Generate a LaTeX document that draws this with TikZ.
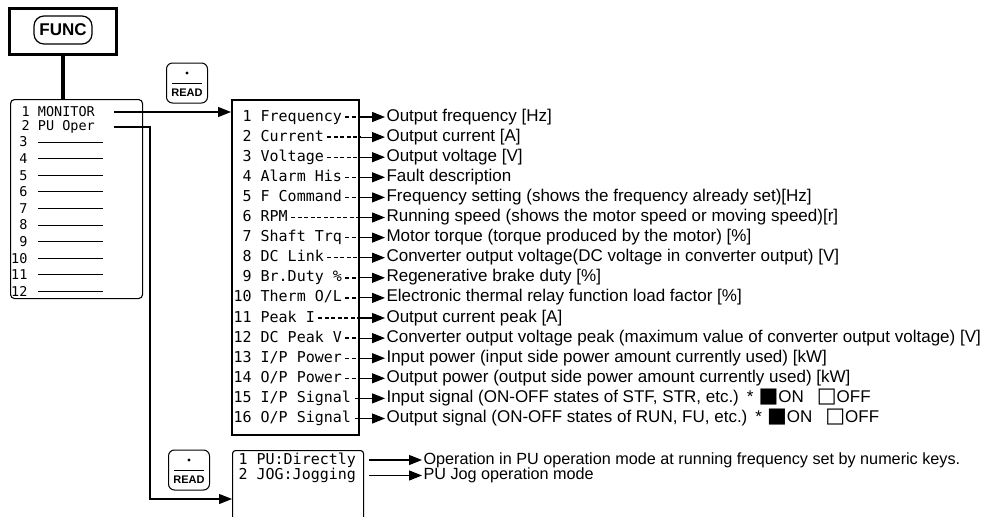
\documentclass[tikz,border=0pt]{standalone}
\usepackage{fontspec}
\setmainfont{Liberation Sans}
\newfontfamily\monofont{DejaVu Sans Mono}
\newfontfamily\symfont{DejaVu Sans}
\usetikzlibrary{arrows.meta,positioning,calc}

\begin{document}
\begin{tikzpicture}[x=1pt,y=-1pt,line width=1.1pt,
    arr/.style={-{Triangle[length=13pt,width=10pt]}},
    dots/.style={line width=1.4pt,dash pattern=on 4pt off 2.5pt,shorten <=2pt},
    keycap/.style={draw,rounded corners=6pt,line width=1pt,minimum width=41pt,minimum height=40pt},
    readtxt/.style={font=\bfseries\fontsize{11}{11}\selectfont,inner sep=0pt},
    menuitem/.style={inner sep=1pt,font=\monofont\fontsize{13.5}{13.5}\selectfont},
    mlabel/.style={anchor=west,inner sep=1pt,text height=11.5pt,text depth=3.5pt,font=\monofont\fontsize{15}{15}\selectfont},
    desc/.style={anchor=west,inner sep=1pt,text height=11.5pt,text depth=3.5pt,font=\fontsize{17}{18}\selectfont}]
  \useasboundingbox (0,0) rectangle (989,517);

  % FUNC key and function menu
  \node[draw,line width=3pt,minimum width=107pt,minimum height=46pt,anchor=north west] (funcbox) at (8,7) {};
  \node[draw,rounded corners=10pt,line width=1.2pt,minimum width=58pt,minimum height=28pt,font=\bfseries\fontsize{17}{17}\selectfont] (func) at ([yshift=1.5pt]funcbox.center) {FUNC};
  \node[draw,rounded corners=4pt,minimum width=132pt,minimum height=199pt,anchor=north west] (menu) at (10,99) {};
  \draw[line width=3.5pt] (funcbox.south) -- (funcbox.south |- menu.north);

  \node[menuitem,anchor=west] (m1) at (12,112) {\phantom{1}1 MONITOR};
  \node[menuitem,anchor=west] (m2) at (12,127) {\phantom{1}2 PU Oper};
  \foreach \i in {3,...,12}{
    \node[menuitem,anchor=east] (n\i) at (29,{142+(\i-3)*16.6}) {\i};
    \draw[line width=0.8pt] (n\i.east) ++(9,0) -- ++(65,0);
  }

  % READ keys
  \node[keycap] (read1) at (187,83) {};
  \fill ([yshift=10pt]read1.center) circle (1.6pt);
  \draw[line width=0.8pt] ([xshift=-15pt]read1.center) -- ([xshift=15pt]read1.center);
  \node[readtxt] (rd1) at ([yshift=-10pt]read1.center) {READ};

  \node[keycap] (read2) at (189,470) {};
  \fill ([yshift=10pt]read2.center) circle (1.6pt);
  \draw[line width=0.8pt] ([xshift=-15pt]read2.center) -- ([xshift=15pt]read2.center);
  \node[readtxt] (rd2) at ([yshift=-10pt]read2.center) {READ};

  % monitor screen
  \node[draw,line width=2pt,minimum width=127pt,minimum height=335pt,anchor=north west] (mon) at (231,99) {};
  \foreach \i/\lab/\txt in {
      1/{\phantom{1}1 Frequency}/{Output frequency [Hz]},
      2/{\phantom{1}2 Current}/{Output current [A]},
      3/{\phantom{1}3 Voltage}/{Output voltage [V]},
      4/{\phantom{1}4 Alarm His}/{Fault description},
      5/{\phantom{1}5 F Command}/{Frequency setting (shows the frequency already set)[Hz]},
      6/{\phantom{1}6 RPM\hspace{18pt}}/{Running speed (shows the motor speed or moving speed)[r]},
      7/{\phantom{1}7 Shaft Trq}/{Motor torque (torque produced by the motor) [\%]},
      8/{\phantom{1}8 DC Link}/{Converter output voltage(DC voltage in converter output) [V]},
      9/{\phantom{1}9 Br.Duty \%}/{Regenerative brake duty [\%]},
      10/{10 Therm O/L}/{Electronic thermal relay function load factor [\%]},
      11/{11 Peak I}/{Output current peak [A]},
      12/{12 DC Peak V}/{Converter output voltage peak (maximum value of converter output voltage) [V]},
      13/{13 I/P Power}/{Input power (input side power amount currently used) [kW]},
      14/{14 O/P Power}/{Output power (output side power amount currently used) [kW]},
      15/{15 I/P Signal}/{Input signal (ON-OFF states of STF, STR, etc.)\hspace{8pt}*\hspace{5pt}{\symfont\fontsize{21}{18}\selectfont ■}ON\hspace{13pt}{\symfont\fontsize{21}{18}\selectfont □}OFF},
      16/{16 O/P Signal}/{Output signal (ON-OFF states of RUN, FU, etc.)\hspace{8pt}*\hspace{5pt}{\symfont\fontsize{21}{18}\selectfont ■}ON\hspace{13pt}{\symfont\fontsize{21}{18}\selectfont □}OFF}}{
    \node[mlabel] (r\i) at (232,{117+(\i-1)*20.1}) {\lab};
    \node[desc] (d\i) at (385,{117+(\i-1)*20.1}) {\txt};
    \draw[dots] (r\i.east) -- (r\i.east -| mon.east);
    \draw[arr] (r\i.east -| mon.east) -- (d\i.west);
  }
  \draw[arr] ([xshift=18pt]m1.east) -- (m1.east -| mon.west);

  % PU operation screen
  \node[draw,rounded corners=3pt,minimum width=131pt,minimum height=90pt,anchor=north west] (pu) at (232,450) {};
  \node[mlabel,font=\monofont\fontsize{15}{15}\selectfont] (p1) at (237,460) {1 PU:Directly};
  \node[mlabel,font=\monofont\fontsize{15}{15}\selectfont] (p2) at (237,475.5) {2 JOG:Jogging};
  \node[desc,font=\fontsize{16.2}{17}\selectfont] (q1) at (422,460) {Operation in PU operation mode at running frequency set by numeric keys.};
  \node[desc,font=\fontsize{16.2}{17}\selectfont] (q2) at (422,475.5) {PU Jog operation mode};
  \draw[arr] ($(p1.east -| pu.east)+(5,0)$) -- (q1.west);
  \draw[arr] ($(p2.east -| pu.east)+(5,0)$) -- (q2.west);

  \coordinate (bend) at (150,499);
  \draw[arr] ([xshift=18pt]m2.east) -| (bend) -- (bend -| pu.west);
\end{tikzpicture}
\end{document}
